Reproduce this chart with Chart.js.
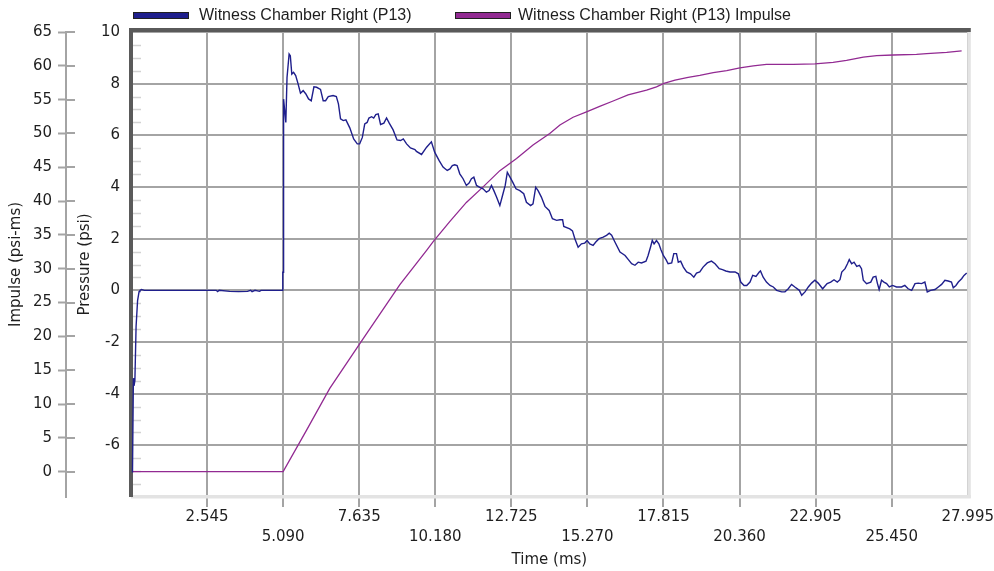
<!DOCTYPE html>
<html>
<head>
<meta charset="utf-8">
<title>Witness Chamber Right (P13)</title>
<script src="https://cdn.jsdelivr.net/npm/chart.js@4/dist/chart.umd.min.js"></script>
<style>
  html, body { margin: 0; padding: 0; background: #ffffff; }
  #wrap { position: relative; width: 994px; height: 571px; }
</style>
</head>
<body>
<div id="wrap"><canvas id="chart" width="994" height="571"></canvas></div>
<script>
// ---- series names ----
const PRESSURE_LABEL = 'Witness Chamber Right (P13)';
const IMPULSE_LABEL = 'Witness Chamber Right (P13) Impulse';

// ---- axis ticks ----
const TIME_TICKS = [0, 2.545, 5.090, 7.635, 10.180, 12.725, 15.270, 17.815, 20.360, 22.905, 25.450, 27.995];
const TIME_TICK_LABELS = ['', '2.545', '5.090', '7.635', '10.180', '12.725', '15.270', '17.815', '20.360', '22.905', '25.450', '27.995'];
const PRESSURE_TICKS = [-8, -6, -4, -2, 0, 2, 4, 6, 8, 10];
const IMPULSE_TICKS = [0, 5, 10, 15, 20, 25, 30, 35, 40, 45, 50, 55, 60, 65];

// ---- pressure trace: time (ms) / pressure (psi) ----
const pressureTime = [
  0.05, 0.08, 0.10, 0.13, 0.17, 0.22, 0.27, 0.30, 0.35, 0.45,
  2.85, 2.90, 2.95, 3.30, 3.60, 3.90, 4.00, 4.05, 4.15, 4.30, 4.35, 5.06,
  5.077, 5.08, 5.09, 5.10, 5.11, 5.18, 5.22, 5.29, 5.33, 5.38, 5.44, 5.51, 5.59, 5.67,
  5.76, 5.85, 5.94, 6.03, 6.12, 6.21, 6.34, 6.43, 6.51, 6.60, 6.76, 6.87, 6.94, 7.01,
  7.10, 7.19, 7.32, 7.45, 7.57, 7.65, 7.74, 7.82, 7.90, 7.96, 8.05, 8.12, 8.19, 8.27,
  8.35, 8.46, 8.55, 8.64, 8.77, 8.90, 9.02, 9.11, 9.22, 9.35, 9.50, 9.55, 9.72, 9.89,
  10.05, 10.16, 10.31, 10.44, 10.58, 10.67, 10.75, 10.83, 10.91, 11.00, 11.11, 11.22,
  11.31, 11.39, 11.47, 11.56, 11.67, 11.78, 11.89, 11.98, 12.06, 12.14, 12.23, 12.34,
  12.43, 12.52, 12.59, 12.68, 12.77, 12.88, 13.01, 13.14, 13.23, 13.37, 13.45, 13.54,
  13.62, 13.73, 13.85, 13.99, 14.10, 14.24, 14.35, 14.44, 14.48, 14.68, 14.77, 14.85,
  14.96, 15.07, 15.18, 15.26, 15.35, 15.46, 15.55, 15.66, 15.80, 15.91, 16.00, 16.08,
  16.19, 16.36, 16.53, 16.64, 16.75, 16.86, 16.97, 17.08, 17.23, 17.30, 17.38, 17.44,
  17.50, 17.58, 17.66, 17.73, 17.81, 17.90, 17.97, 18.09, 18.16, 18.25, 18.31, 18.39,
  18.48, 18.59, 18.72, 18.83, 18.92, 19.03, 19.14, 19.28, 19.42, 19.54, 19.68, 19.79,
  19.90, 20.04, 20.21, 20.32, 20.40, 20.51, 20.60, 20.71, 20.80, 20.91, 21.02, 21.06,
  21.15, 21.26, 21.38, 21.49, 21.60, 21.77, 21.88, 21.99, 22.10, 22.21, 22.36, 22.44,
  22.55, 22.66, 22.77, 22.88, 22.99, 23.14, 23.29, 23.41, 23.52, 23.63, 23.72, 23.78,
  23.89, 23.97, 24.03, 24.11, 24.19, 24.28, 24.37, 24.44, 24.50, 24.61, 24.75, 24.83,
  24.92, 24.97, 25.03, 25.11, 25.19, 25.28, 25.37, 25.48, 25.61, 25.78, 25.89, 26.00,
  26.12, 26.23, 26.34, 26.45, 26.56, 26.64, 26.75, 26.90, 27.01, 27.12, 27.23, 27.34,
  27.45, 27.51, 27.60, 27.68, 27.79, 27.87, 27.96
];
const pressurePsi = [
  -7.05, -3.40, -3.70, -3.50, -1.40, -0.40, -0.05, 0.00, 0.03, 0.00,
  0.00, -0.05, 0.00, -0.04, -0.05, -0.04, 0.00, -0.05, 0.00, -0.04, 0.00, 0.00,
  0.00, 0.70, 0.70, 4.50, 7.40, 6.50, 8.24, 9.15, 9.08, 8.37, 8.44, 8.31, 7.99, 7.63,
  7.73, 7.60, 7.41, 7.34, 7.88, 7.86, 7.78, 7.34, 7.34, 7.50, 7.54, 7.50, 7.22, 6.64,
  6.57, 6.60, 6.29, 5.86, 5.67, 5.67, 5.92, 6.44, 6.50, 6.67, 6.72, 6.67, 6.80, 6.83,
  6.42, 6.47, 6.67, 6.47, 6.21, 5.82, 5.80, 5.86, 5.67, 5.51, 5.45, 5.38, 5.26, 5.54,
  5.75, 5.35, 5.02, 4.77, 4.64, 4.70, 4.83, 4.86, 4.83, 4.51, 4.32, 4.06,
  4.15, 4.32, 4.38, 4.06, 3.99, 3.93, 3.80, 3.86, 4.06, 3.86, 3.61, 3.28,
  3.67, 4.06, 4.57, 4.38, 4.19, 3.93, 3.86, 3.74, 3.41, 3.28, 3.35, 3.99,
  3.86, 3.61, 3.25, 3.09, 2.77, 2.71, 2.73, 2.73, 2.47, 2.38, 2.30, 2.00,
  1.67, 1.80, 1.83, 1.93, 1.80, 1.74, 1.87, 2.00, 2.06, 2.13, 2.21, 2.13,
  1.87, 1.48, 1.35, 1.19, 1.03, 0.97, 1.09, 1.06, 1.13, 1.35, 1.67, 1.93,
  1.80, 1.93, 1.80, 1.57, 1.35, 1.19, 1.03, 1.06, 1.42, 1.42, 1.09, 1.13,
  0.90, 0.71, 0.64, 0.51, 0.67, 0.71, 0.90, 1.06, 1.13, 1.03, 0.84, 0.80,
  0.75, 0.71, 0.71, 0.64, 0.32, 0.19, 0.19, 0.32, 0.58, 0.54, 0.71, 0.75,
  0.51, 0.32, 0.19, 0.13, 0.00, -0.06, -0.06, 0.06, 0.23, 0.13, 0.00, -0.19,
  -0.06, 0.13, 0.28, 0.39, 0.28, 0.06, 0.26, 0.32, 0.41, 0.32, 0.41, 0.71,
  0.84, 1.03, 1.19, 1.03, 1.09, 0.93, 0.97, 0.84, 0.39, 0.26, 0.32, 0.51,
  0.54, 0.28, 0.03, 0.39, 0.32, 0.26, 0.13, 0.19, 0.13, 0.13, 0.19, 0.06,
  0.00, 0.26, 0.28, 0.26, 0.32, -0.06, 0.00, 0.03, 0.13, 0.23, 0.39, 0.36,
  0.32, 0.10, 0.19, 0.32, 0.45, 0.58, 0.67
];

// ---- impulse trace: time (ms) / impulse (psi-ms) ----
const impulseTime = [
  0.05, 5.09, 5.87, 6.65, 7.65, 8.99, 9.89, 10.11, 10.67, 11.22, 11.78, 12.34,
  12.90, 13.45, 14.01, 14.35, 14.79, 15.24, 15.68, 16.13, 16.63, 17.25, 17.58, 17.83,
  18.20, 18.64, 19.03, 19.48, 19.93, 20.37, 20.82, 21.26, 22.16, 22.88, 23.49, 23.94,
  24.50, 24.95, 25.50, 26.28, 26.62, 27.29, 27.79
];
const impulseValue = [
  0.0, 0.0, 6.1, 12.3, 18.9, 27.6, 32.7, 34.0, 37.0, 39.8, 42.1, 44.5,
  46.3, 48.3, 50.0, 51.25, 52.4, 53.2, 54.0, 54.8, 55.7, 56.4, 56.9, 57.4,
  57.9, 58.3, 58.6, 59.0, 59.3, 59.7, 60.0, 60.2, 60.2, 60.3, 60.5, 60.8,
  61.3, 61.5, 61.6, 61.7, 61.8, 62.0, 62.2
];

const PRESSURE_COLOR = '#1f1f8c';
const IMPULSE_COLOR = '#922a92';
const GRID_COLOR = '#a4a4a4';
const TEXT_COLOR = '#1e1e1e';
const TICK_FONT = { family: '"DejaVu Sans", sans-serif', size: 15 };

const toPoints = (xs, ys) => xs.map((x, i) => ({ x: x, y: ys[i] }));

// frame, minor ticks, impulse axis tick stubs and legend
const decorations = {
  id: 'decorations',
  beforeDatasetsDraw(chart) {
    const { ctx, chartArea: a, scales } = chart;
    ctx.save();
    // minor pressure ticks every 0.5 psi along the inner left edge
    ctx.strokeStyle = '#d2d2d2';
    ctx.lineWidth = 1.5;
    for (let v = -8; v <= 10; v += 0.5) {
      if (v % 2 === 0) continue;
      const y = Math.round(scales.y.getPixelForValue(v)) + 0.5;
      ctx.beginPath();
      ctx.moveTo(a.left + 2, y);
      ctx.lineTo(a.left + 10, y);
      ctx.stroke();
    }
    // plot frame: light right/bottom, dark left/top
    ctx.fillStyle = '#e3e3e3';
    ctx.fillRect(a.right - 0.5, a.top - 4, 3.5, a.bottom - a.top + 5);
    ctx.fillRect(a.left, a.bottom - 2, a.right - a.left + 3, 3.5);
    ctx.fillStyle = '#5a5a5a';
    ctx.fillRect(a.left - 2, a.top - 4, 4, a.bottom - a.top + 4);
    ctx.fillRect(a.left - 2, a.top - 4, a.right - a.left + 5, 4);
    // impulse axis ticks cross the axis line
    const s = scales.y1;
    ctx.strokeStyle = GRID_COLOR;
    ctx.lineWidth = 2;
    s.ticks.forEach(t => {
      const y = Math.round(s.getPixelForValue(t.value));
      ctx.beginPath();
      ctx.moveTo(s.right, y);
      ctx.lineTo(s.right + 9, y);
      ctx.stroke();
    });
    ctx.restore();
  },
  afterDraw(chart) {
    const { ctx } = chart;
    const items = [
      { x: 133, textX: 199, ds: chart.data.datasets[0] },
      { x: 455, textX: 518, ds: chart.data.datasets[1] }
    ];
    ctx.save();
    ctx.font = '16px "Liberation Sans", Arial, sans-serif';
    ctx.textBaseline = 'middle';
    ctx.fillStyle = TEXT_COLOR;
    items.forEach(it => {
      ctx.fillStyle = it.ds.borderColor;
      ctx.fillRect(it.x, 13, 55, 5);
      ctx.strokeStyle = '#202020';
      ctx.lineWidth = 1;
      ctx.strokeRect(it.x + 0.5, 12.5, 55, 6);
      ctx.fillStyle = TEXT_COLOR;
      ctx.fillText(it.ds.label, it.textX, 15.5);
    });
    ctx.restore();
  }
};

new Chart(document.getElementById('chart'), {
  type: 'line',
  data: {
    datasets: [
      {
        label: PRESSURE_LABEL,
        data: toPoints(pressureTime, pressurePsi),
        borderColor: PRESSURE_COLOR,
        backgroundColor: PRESSURE_COLOR,
        borderWidth: 1.4,
        pointRadius: 0,
        tension: 0,
        yAxisID: 'y'
      },
      {
        label: IMPULSE_LABEL,
        data: toPoints(impulseTime, impulseValue),
        borderColor: IMPULSE_COLOR,
        backgroundColor: IMPULSE_COLOR,
        borderWidth: 1.3,
        pointRadius: 0,
        tension: 0,
        yAxisID: 'y1'
      }
    ]
  },
  options: {
    responsive: false,
    animation: false,
    events: [],
    layout: { padding: { left: 0, right: 26, top: 32, bottom: 0 } },
    plugins: {
      legend: { display: false },
      tooltip: { enabled: false }
    },
    scales: {
      x: {
        type: 'linear',
        min: 0,
        max: 27.995,
        afterBuildTicks: s => { s.ticks = TIME_TICKS.map(v => ({ value: v })); },
        afterFit: s => { s.height = 74; },
        ticks: {
          autoSkip: false,
          maxRotation: 0,
          minRotation: 0,
          padding: 0,
          color: TEXT_COLOR,
          font: Object.assign({ lineHeight: 1.33 }, TICK_FONT),
          callback: (v, i) => {
            const lab = TIME_TICK_LABELS[i] || '';
            return i % 2 === 1 ? [lab, ''] : ['', lab];
          }
        },
        grid: {
          color: GRID_COLOR,
          lineWidth: 2,
          drawTicks: true,
          tickLength: 10,
          tickColor: c => (c.index === 0 || c.index === TIME_TICKS.length - 1) ? 'rgba(0,0,0,0)' : GRID_COLOR,
          tickWidth: 2
        },
        border: { display: false },
        title: {
          display: true,
          text: 'Time (ms)',
          color: TEXT_COLOR,
          font: TICK_FONT,
          padding: { top: 4, bottom: 2 }
        }
      },
      y: {
        type: 'linear',
        position: 'left',
        weight: 0,
        min: -8,
        max: 10,
        afterBuildTicks: s => { s.ticks = PRESSURE_TICKS.map(v => ({ value: v })); },
        afterFit: s => { s.width = 65; },
        ticks: {
          padding: 11,
          color: TEXT_COLOR,
          font: TICK_FONT,
          callback: v => (v === -8 ? '' : String(v))
        },
        grid: { color: GRID_COLOR, lineWidth: 2, drawTicks: false },
        border: { display: false },
        title: {
          display: true,
          text: 'Pressure (psi)',
          color: TEXT_COLOR,
          font: TICK_FONT,
          padding: { top: 10, bottom: 0 }
        }
      },
      y1: {
        type: 'linear',
        position: 'left',
        weight: 1,
        min: -3.75,
        max: 65,
        afterBuildTicks: s => { s.ticks = IMPULSE_TICKS.map(v => ({ value: v })); },
        afterFit: s => { s.width = 66; },
        ticks: {
          padding: 6,
          color: TEXT_COLOR,
          font: TICK_FONT,
          callback: v => String(v)
        },
        grid: {
          drawOnChartArea: false,
          drawTicks: true,
          tickLength: 8,
          tickColor: GRID_COLOR,
          tickWidth: 2,
          color: GRID_COLOR
        },
        border: { display: true, color: GRID_COLOR, width: 2 },
        title: {
          display: true,
          text: 'Impulse (psi-ms)',
          color: TEXT_COLOR,
          font: TICK_FONT,
          padding: { top: 7, bottom: 0 }
        }
      }
    }
  },
  plugins: [decorations]
});
</script>
</body>
</html>
